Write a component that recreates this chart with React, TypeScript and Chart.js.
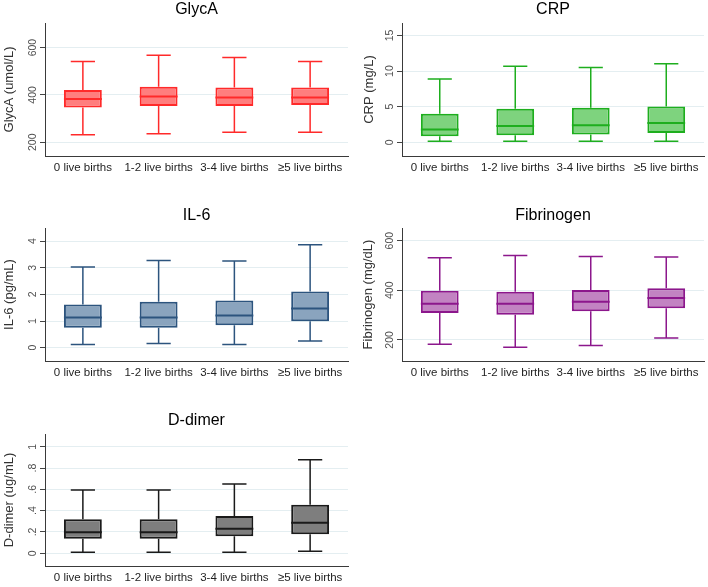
import React, { useEffect, useRef } from "react";
import { Chart, registerables } from "chart.js";

Chart.register(...registerables);

const categories = ["0 live births", "1-2 live births", "3-4 live births", "≥5 live births"];

// GlycA (umol/L)
const glycaMin = [232, 236, 242, 242];
const glycaQ1 = [347, 353, 353, 358];
const glycaMed = [383, 393, 389, 389];
const glycaQ3 = [421, 435, 431, 431];
const glycaMax = [541, 568, 558, 541];
const glycaTicks = [200, 400, 600];

// CRP (mg/L)
const crpMin = [0.15, 0.15, 0.15, 0.15];
const crpQ1 = [0.85, 0.99, 1.08, 1.31];
const crpMed = [1.79, 2.3, 2.39, 2.72];
const crpQ3 = [3.99, 4.69, 4.83, 5.03];
const crpMax = [8.87, 10.66, 10.5, 11.03];
const crpTicks = [0, 5, 10, 15];

// IL-6 (pg/mL)
const il6Min = [0.12, 0.16, 0.12, 0.25];
const il6Q1 = [0.75, 0.75, 0.84, 0.99];
const il6Med = [1.13, 1.13, 1.21, 1.47];
const il6Q3 = [1.62, 1.72, 1.77, 2.11];
const il6Max = [3.03, 3.27, 3.25, 3.86];
const il6Ticks = [0, 1, 2, 3, 4];

// Fibrinogen (mg/dL)
const fibMin = [183, 170, 177, 208];
const fibQ1 = [308, 301, 315, 328];
const fibMed = [346, 346, 354, 369];
const fibQ3 = [398, 394, 401, 408];
const fibMax = [531, 540, 536, 534];
const fibTicks = [200, 400, 600];

// D-dimer (ug/mL)
const ddMin = [0.01, 0.01, 0.01, 0.019];
const ddQ1 = [0.135, 0.135, 0.16, 0.179];
const ddMed = [0.198, 0.198, 0.229, 0.286];
const ddQ3 = [0.318, 0.318, 0.349, 0.456];
const ddMax = [0.594, 0.594, 0.651, 0.877];
const ddTicks = [0, 0.2, 0.4, 0.6, 0.8, 1];
const ddTickLabels = ["0", ".2", ".4", ".6", ".8", "1"];

const FAMILY = "'Liberation Sans', Arial, Helvetica, sans-serif";

type Panel = {
  title: string;
  yTitle: string;
  mins: number[];
  q1: number[];
  med: number[];
  q3: number[];
  maxs: number[];
  ticks: number[];
  tickLabels?: string[];
  yMin: number;
  yMax: number;
  fill: string;
  stroke: string;
  left: number;
  top: number;
  w: number;
  h: number;
  area: { l: number; r: number; t: number; b: number };
  titleY: number;
  yTitleX: number;
};

const panels: Panel[] = [
  {
    title: "GlycA", yTitle: "GlycA (umol/L)",
    mins: glycaMin, q1: glycaQ1, med: glycaMed, q3: glycaQ3, maxs: glycaMax,
    ticks: glycaTicks, yMin: 142, yMax: 704,
    fill: "#FF7E7E", stroke: "#FF2A2A",
    left: 0, top: 0, w: 354, h: 190,
    area: { l: 45, r: 348, t: 23, b: 156 }, titleY: 10, yTitleX: 9,
  },
  {
    title: "CRP", yTitle: "CRP (mg/L)",
    mins: crpMin, q1: crpQ1, med: crpMed, q3: crpQ3, maxs: crpMax,
    ticks: crpTicks, yMin: -1.93, yMax: 16.75,
    fill: "#7ED37E", stroke: "#1EAE1E",
    left: 354, top: 0, w: 354, h: 190,
    area: { l: 48, r: 350, t: 23, b: 156 }, titleY: 10, yTitleX: 15,
  },
  {
    title: "IL-6", yTitle: "IL-6 (pg/mL)",
    mins: il6Min, q1: il6Q1, med: il6Med, q3: il6Q3, maxs: il6Max,
    ticks: il6Ticks, yMin: -0.5, yMax: 4.49,
    fill: "#8AA4BE", stroke: "#2C547E",
    left: 0, top: 195, w: 354, h: 195,
    area: { l: 45, r: 348, t: 33, b: 166 }, titleY: 21, yTitleX: 9.5,
  },
  {
    title: "Fibrinogen", yTitle: "Fibrinogen (mg/dL)",
    mins: fibMin, q1: fibQ1, med: fibMed, q3: fibQ3, maxs: fibMax,
    ticks: fibTicks, yMin: 115, yMax: 651,
    fill: "#C283C2", stroke: "#8C178C",
    left: 354, top: 195, w: 354, h: 195,
    area: { l: 48, r: 350, t: 33, b: 166 }, titleY: 21, yTitleX: 14,
  },
  {
    title: "D-dimer", yTitle: "D-dimer (ug/mL)",
    mins: ddMin, q1: ddQ1, med: ddMed, q3: ddQ3, maxs: ddMax,
    ticks: ddTicks, tickLabels: ddTickLabels, yMin: -0.12, yMax: 1.12,
    fill: "#7E7E7E", stroke: "#1A1A1A",
    left: 0, top: 390, w: 354, h: 197,
    area: { l: 45, r: 348, t: 44, b: 176 }, titleY: 31, yTitleX: 9,
  },
];

function BoxPanel({ p }: { p: Panel }) {
  const ref = useRef<HTMLCanvasElement>(null);

  useEffect(() => {
    if (!ref.current) return;
    const tickSize = 10.5;
    const fmt = (v: number) => {
      const idx = p.ticks.findIndex((t) => Math.abs(t - v) < 1e-9);
      if (p.tickLabels && idx >= 0) return p.tickLabels[idx];
      return String(v);
    };
    const labels = p.ticks.map(fmt);
    const mctx = document.createElement("canvas").getContext("2d")!;
    mctx.font = `${tickSize}px ${FAMILY}`;
    const widest = Math.max(...labels.map((s) => mctx.measureText(s).width));
    const tickLen = 5;
    const tickPad = 12 - tickLen - widest / 2;

    const boxPlugin = {
      id: "boxWhiskers",
      afterDatasetsDraw(chart: any) {
        const { ctx, scales } = chart;
        const xs = scales.x;
        const ys = scales.y;
        const meta = chart.getDatasetMeta(0);
        ctx.save();
        ctx.strokeStyle = p.stroke;
        for (let i = 0; i < categories.length; i++) {
          const bar: any = meta.data[i];
          const bw = bar.width;
          const cx = xs.getPixelForValue(i);
          const cap = bw * 0.32;
          const yMax = ys.getPixelForValue(p.maxs[i]);
          const yMin = ys.getPixelForValue(p.mins[i]);
          const yQ1 = ys.getPixelForValue(p.q1[i]);
          const yQ3 = ys.getPixelForValue(p.q3[i]);
          const yMed = ys.getPixelForValue(p.med[i]);
          ctx.lineWidth = 1.5;
          ctx.beginPath();
          ctx.moveTo(cx, yQ3);
          ctx.lineTo(cx, yMax);
          ctx.moveTo(cx - cap, yMax);
          ctx.lineTo(cx + cap, yMax);
          ctx.moveTo(cx, yQ1);
          ctx.lineTo(cx, yMin);
          ctx.moveTo(cx - cap, yMin);
          ctx.lineTo(cx + cap, yMin);
          ctx.stroke();
          ctx.lineWidth = 2;
          ctx.beginPath();
          ctx.moveTo(cx - bw / 2, yMed);
          ctx.lineTo(cx + bw / 2, yMed);
          ctx.stroke();
        }
        ctx.restore();
      },
    };

    const chart = new Chart(ref.current, {
      type: "bar",
      data: {
        labels: categories,
        datasets: [
          {
            data: p.q1.map((v, i) => [v, p.q3[i]]) as any,
            backgroundColor: p.fill,
            borderColor: p.stroke,
            borderWidth: 2,
            borderSkipped: false,
            categoryPercentage: 1,
            barPercentage: 0.5,
          },
        ],
      },
      options: {
        responsive: false,
        animation: false,
        devicePixelRatio: 1,
        layout: {
          padding: { left: 0, right: p.w - p.area.r, top: 0, bottom: 0 },
          autoPadding: false,
        } as any,
        plugins: {
          legend: { display: false },
          tooltip: { enabled: false },
          title: {
            display: true,
            text: p.title,
            fullSize: false,
            color: "#000000",
            font: { family: FAMILY, size: 16, weight: "normal", lineHeight: 1.2 },
            padding: { top: p.titleY - 9.6, bottom: p.area.t - p.titleY - 9.6 },
          },
        },
        scales: {
          x: {
            type: "category",
            grid: { display: false, drawTicks: false },
            border: { display: true, color: "#3a3a3a", width: 1 },
            ticks: {
              font: { family: FAMILY, size: 11.5 },
              color: "#1e1e1e",
              padding: 5,
              maxRotation: 0,
              minRotation: 0,
              autoSkip: false,
            },
            afterFit: (s: any) => {
              s.height = p.h - p.area.b;
            },
          },
          y: {
            type: "linear",
            min: p.yMin,
            max: p.yMax,
            afterBuildTicks: (s: any) => {
              s.ticks = p.ticks.map((v) => ({ value: v }));
            },
            grid: {
              color: "#E4EEF1",
              lineWidth: 1,
              tickLength: tickLen,
              tickColor: "#444444",
              drawTicks: true,
            },
            border: { display: true, color: "#3a3a3a", width: 1 },
            ticks: {
              font: { family: FAMILY, size: tickSize },
              color: "#505050",
              minRotation: 90,
              maxRotation: 90,
              crossAlign: "center",
              padding: tickPad,
              callback: (v: any) => fmt(Number(v)),
            },
            title: {
              display: true,
              text: p.yTitle,
              color: "#333333",
              font: { family: FAMILY, size: 13, lineHeight: 1.2 },
              padding: { top: p.yTitleX - 7.8, bottom: 0 },
            },
            afterFit: (s: any) => {
              s.width = p.area.l;
            },
          },
        },
      } as any,
      plugins: [boxPlugin],
    });
    return () => chart.destroy();
  }, [p]);

  return (
    <div style={{ position: "absolute", left: p.left, top: p.top, width: p.w, height: p.h }}>
      <canvas ref={ref} width={p.w} height={p.h} style={{ width: p.w, height: p.h, display: "block" }} />
    </div>
  );
}

export default function App() {
  return (
    <div style={{ position: "absolute", left: 0, top: 0, width: 708, height: 587, background: "#ffffff" }}>
      {panels.map((p) => (
        <BoxPanel key={p.title} p={p} />
      ))}
    </div>
  );
}
